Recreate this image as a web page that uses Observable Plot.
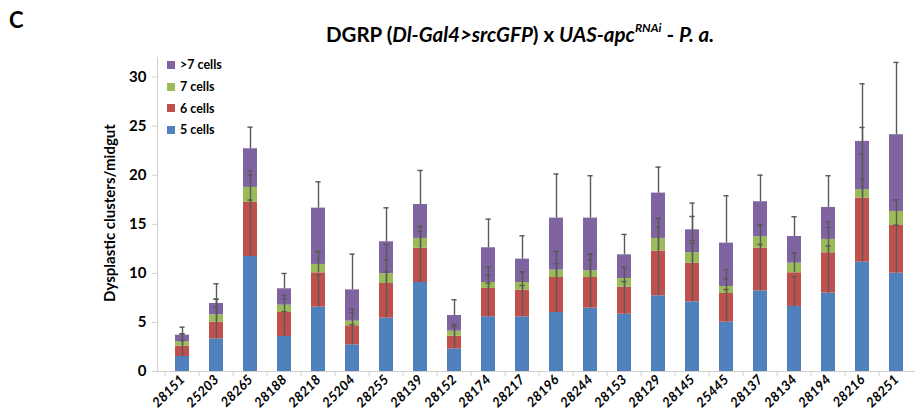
<!DOCTYPE html>
<html><head><meta charset="utf-8">
<script src="https://cdn.jsdelivr.net/npm/d3@7"></script>
<script src="https://cdn.jsdelivr.net/npm/@observablehq/plot@0.6"></script>
<style>
body{margin:0;background:#fff;font-family:Lato,"Open Sans",sans-serif;}
#wrap{position:relative;width:915px;height:418px;overflow:hidden;}
#panel{position:absolute;left:9px;top:6px;font:bold 22px Lato,sans-serif;color:#000;}
#title{position:absolute;left:520px;top:22px;transform:translateX(-50%);white-space:nowrap;font:bold 20.5px Lato,sans-serif;color:#000;}
#title sup{font-size:12px;position:relative;top:-2px;}
#ylab{position:absolute;left:109px;top:213px;transform:translate(-50%,-50%) rotate(-90deg);white-space:nowrap;font:bold 15px Lato,sans-serif;color:#000;}
#legend{position:absolute;left:167px;top:54px;font:bold 12.5px Lato,sans-serif;color:#000;}
#legend div{height:21.7px;display:flex;align-items:center;}
#legend span.sw{display:inline-block;width:8px;height:8px;margin-right:5px;}
#chart{position:absolute;left:0;top:0;}
</style>
</head><body>
<div id="wrap">
  <div id="chart"></div>
  <div id="panel">C</div>
  <div id="title">DGRP (<i>Dl-Gal4&gt;srcGFP</i>) x <i>UAS-apc<sup>RNAi</sup></i> - <i>P. a.</i></div>
  <div id="ylab">Dysplastic clusters/midgut</div>
  <div id="legend"></div>
</div>
<script>
const lines = ["28151","25203","28265","28188","28218","25204","28255","28139","28152","28174","28217","28196","28244","28153","28129","28145","25445","28137","28134","28194","28216","28251"];
const series = ["5 cells","6 cells","7 cells",">7 cells"];
const colors = ["#4f81bd","#c0504d","#9bbb59","#8064a2"];
const yTicks = [0,5,10,15,20,25,30];

const cells5   = [1.53,3.33,11.72,3.57,6.56,2.72,5.44,9.07,2.31,5.57,5.57,6.01,6.46,5.84,7.71,7.10,5.03,8.22,6.63,7.99,11.14,10.02];
const cells6   = [1.05,1.70,5.51,2.44,3.50,1.94,3.53,3.50,1.29,2.89,2.72,3.57,3.12,2.76,4.56,3.94,2.92,4.35,3.43,4.11,6.53,4.86];
const cells7   = [0.44,0.75,1.53,0.75,0.85,0.47,0.99,0.99,0.51,0.61,0.78,0.75,0.68,0.88,1.29,1.06,0.71,1.16,0.98,1.36,0.85,1.43];
const cellsGt7 = [0.68,1.15,3.94,1.67,5.74,3.19,3.26,3.46,1.60,3.54,2.38,5.30,5.37,2.41,4.62,2.34,4.42,3.57,2.72,3.26,4.93,7.82];

const err5   = [1.63,3.23,5.75,2.53,3.26,2.04,4.69,5.20,2.28,3.43,3.20,4.99,4.89,3.33,7.00,5.98,3.33,4.73,3.05,4.81,8.46,4.90];
const err6   = [1.26,2.34,2.77,1.39,2.17,1.35,2.41,2.21,1.19,1.36,1.87,2.65,2.38,2.00,3.33,2.31,1.50,2.35,2.04,2.58,4.48,2.60];
const err7   = [0.82,1.59,1.69,0.99,1.32,1.26,2.99,1.22,0.68,1.57,1.09,1.90,1.70,1.12,2.04,3.70,1.74,1.19,1.06,1.80,6.35,1.20];
const errGt7 = [0.82,2.01,2.20,1.56,2.68,3.64,3.46,3.47,1.60,2.92,2.38,4.49,4.32,2.08,2.65,2.72,4.83,2.71,2.01,3.23,5.87,7.37];

const values = [cells5, cells6, cells7, cellsGt7];
const errors = [err5, err6, err7, errGt7];

const rows = [];
lines.forEach((line, i) => {
  let top = 0;
  series.forEach((s, k) => {
    top += values[k][i];
    rows.push({line, series: s, value: values[k][i], err: errors[k][i], top});
  });
});

const chart = Plot.plot({
  width: 915,
  height: 418,
  marginLeft: 157,
  marginRight: 0,
  marginTop: 57,
  marginBottom: 47,
  style: {fontFamily: "Lato, sans-serif", background: "transparent"},
  x: {type: "band", domain: lines, range: [157, 921.8], paddingInner: 0.59, paddingOuter: 0.295, axis: null},
  y: {domain: [0, 32], axis: null},
  color: {domain: series, range: colors},
  marks: [
    Plot.frame({anchor: "left", stroke: "#d0d0d0"}),
    Plot.barY(rows, {x: "line", y: "value", fill: "series"}),
    Plot.ruleX(rows, {x: "line", y1: "top", y2: d => d.top + d.err, stroke: "#595959", strokeWidth: 1.4}),
    Plot.tickY(rows, {x: "line", y: d => d.top + d.err, stroke: "#595959", strokeWidth: 1.4, insetLeft: 4.4, insetRight: 4.4}),
    Plot.ruleY([0], {stroke: "#d0d0d0"}),
    Plot.ruleX(lines, {x: d => d, y1: 0, y2: -0.5, dx: -17.38, stroke: "#d0d0d0"}),
    Plot.axisY({ticks: yTicks, tickSize: 5, tickPadding: 6, stroke: "#d0d0d0", fill: "#000", fontSize: 15, fontWeight: "bold", label: null}),
    Plot.axisX({tickRotate: -45, tickSize: 0, tickPadding: 6, fill: "#000", fontSize: 13.5, fontWeight: "bold", fontStyle: "italic", label: null})
  ]
});
document.getElementById("chart").appendChild(chart);

const legend = document.getElementById("legend");
series.slice().reverse().forEach((s) => {
  const k = series.indexOf(s);
  const row = document.createElement("div");
  row.innerHTML = `<span class="sw" style="background:${colors[k]}"></span>${s}`;
  legend.appendChild(row);
});
</script>
</body></html>
